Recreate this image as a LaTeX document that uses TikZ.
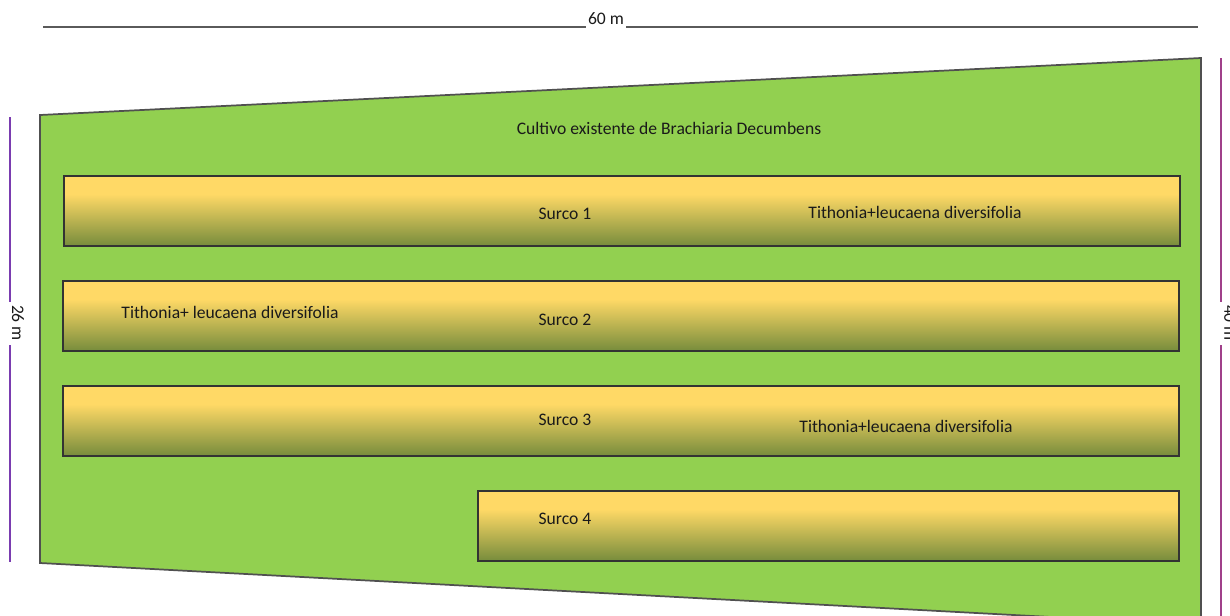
\documentclass[tikz,border=0pt]{standalone}
\usepackage{fontspec}
\setmainfont{Carlito}
\definecolor{grass}{HTML}{92D050}
\definecolor{yelt}{RGB}{255,217,102}
\definecolor{oliveb}{RGB}{118,140,60}
\definecolor{edgegray}{HTML}{505050}
\definecolor{dimgray}{HTML}{5A5A5A}
\definecolor{dimviolet}{HTML}{7A3CB0}
\definecolor{dimmagenta}{HTML}{A0408A}
\definecolor{txt}{HTML}{1A1A1A}
\pgfdeclareverticalshading{furrowshade}{100bp}{color(0bp)=(oliveb); color(25bp)=(oliveb); color(62bp)=(yelt); color(75bp)=(yelt); color(100bp)=(yelt)}
\tikzset{
  furrowbox/.style={shading=furrowshade, draw=black!80, line width=1.3pt},
  field/.style={fill=grass, draw=edgegray, line width=1.3pt},
  lbl/.style={font=\fontsize{13.2pt}{15pt}\selectfont, text=txt, inner sep=0pt},
  dimlabel/.style={lbl, rotate=-90},
  dimline/.style={line width=1pt}
}
\begin{document}
\begin{tikzpicture}[x=0.75pt,y=-0.75pt]
\useasboundingbox (0,0) rectangle (1230,615);
% top dimension
\node[lbl] (w60) at (606,19) {60 m};
\coordinate (wl) at (43,27);
\coordinate (wr) at (1198,27);
\draw[dimgray, dimline] (wl) -- (586,27);
\draw[dimgray, dimline] (626,27) -- (wr);
% left dimension
\node[dimlabel] (h26) at (18,323) {26 m};
\coordinate (lt) at (10,117);
\coordinate (lb) at (10,562);
\draw[dimviolet, dimline] (lt) -- (10,302);
\draw[dimviolet, dimline] (10,345) -- (lb);
% right dimension
\node[dimlabel] (h40) at (1230,323) {40 m};
\coordinate (rt) at (1221,58);
\coordinate (rb) at (1221,620);
\draw[dimmagenta, dimline] (rt) -- (1221,302);
\draw[dimmagenta, dimline] (1221,345) -- (rb);
% field
\draw[field] (40,115) -- (1201,58) -- (1201,625) -- (40,563) -- cycle;
\node[lbl] (crop) at (669,128) {Cultivo existente de Brachiaria Decumbens};
% furrows
\draw[furrowbox] (64,176) rectangle (1180,246);
\draw[furrowbox] (63,281) rectangle (1179,351);
\draw[furrowbox] (63,386) rectangle (1179,456);
\draw[furrowbox] (478,491) rectangle (1179,561);
\node[lbl] (s1) at (565,214) {Surco 1};
\node[lbl] (t1) at (915,212) {Tithonia+leucaena diversifolia};
\node[lbl] (t2) at (230,312) {Tithonia+ leucaena diversifolia};
\node[lbl] (s2) at (565,320) {Surco 2};
\node[lbl] (s3) at (565,420) {Surco 3};
\node[lbl] (t3) at (906,426) {Tithonia+leucaena diversifolia};
\node[lbl] (s4) at (565,519) {Surco 4};
\end{tikzpicture}
\end{document}
